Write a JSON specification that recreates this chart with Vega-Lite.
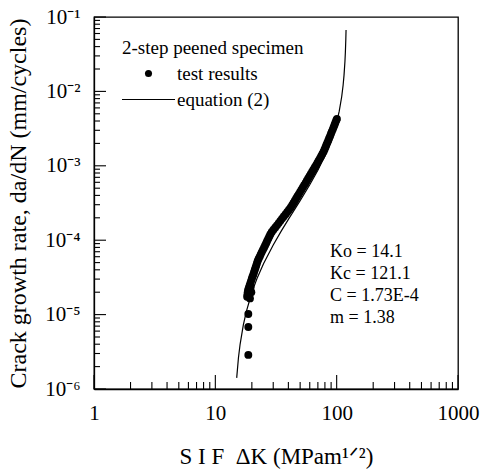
{
  "$schema": "https://vega.github.io/schema/vega-lite/v6.json",
  "width": 364,
  "height": 372,
  "autosize": {"type": "none"},
  "padding": {"left": 94, "top": 17, "right": 33, "bottom": 82},
  "background": "white",
  "config": {
    "view": {"stroke": "black", "strokeWidth": 1.3},
    "font": "Liberation Serif",
    "axis": {
      "grid": false,
      "ticks": false,
      "tickSize": 0,
      "domainColor": "black",
      "domainWidth": 1.3,
      "labelColor": "black",
      "titleColor": "black",
      "labelFont": "Liberation Serif",
      "titleFont": "Liberation Serif",
      "titleFontWeight": "normal"
    }
  },
  "datasets": {
    "xticks": [
      {"v": 1, "major": true}, {"v": 2, "major": false}, {"v": 3, "major": false}, {"v": 4, "major": false}, {"v": 5, "major": false}, {"v": 6, "major": false}, {"v": 7, "major": false}, {"v": 8, "major": false}, {"v": 9, "major": false},
      {"v": 10, "major": true}, {"v": 20, "major": false}, {"v": 30, "major": false}, {"v": 40, "major": false}, {"v": 50, "major": false}, {"v": 60, "major": false}, {"v": 70, "major": false}, {"v": 80, "major": false}, {"v": 90, "major": false},
      {"v": 100, "major": true}, {"v": 200, "major": false}, {"v": 300, "major": false}, {"v": 400, "major": false}, {"v": 500, "major": false}, {"v": 600, "major": false}, {"v": 700, "major": false}, {"v": 800, "major": false}, {"v": 900, "major": false},
      {"v": 1000, "major": true}
    ],
    "yticks": [
      {"v": 0.000001, "major": true}, {"v": 0.000002, "major": false}, {"v": 0.000003, "major": false}, {"v": 0.000004, "major": false}, {"v": 0.000005, "major": false}, {"v": 0.000006, "major": false}, {"v": 0.000007, "major": false}, {"v": 0.000008, "major": false}, {"v": 0.000009, "major": false},
      {"v": 0.00001, "major": true}, {"v": 0.00002, "major": false}, {"v": 0.00003, "major": false}, {"v": 0.00004, "major": false}, {"v": 0.00005, "major": false}, {"v": 0.00006, "major": false}, {"v": 0.00007, "major": false}, {"v": 0.00008, "major": false}, {"v": 0.00009, "major": false},
      {"v": 0.0001, "major": true}, {"v": 0.0002, "major": false}, {"v": 0.0003, "major": false}, {"v": 0.0004, "major": false}, {"v": 0.0005, "major": false}, {"v": 0.0006, "major": false}, {"v": 0.0007, "major": false}, {"v": 0.0008, "major": false}, {"v": 0.0009, "major": false},
      {"v": 0.001, "major": true}, {"v": 0.002, "major": false}, {"v": 0.003, "major": false}, {"v": 0.004, "major": false}, {"v": 0.005, "major": false}, {"v": 0.006, "major": false}, {"v": 0.007, "major": false}, {"v": 0.008, "major": false}, {"v": 0.009, "major": false},
      {"v": 0.01, "major": true}, {"v": 0.02, "major": false}, {"v": 0.03, "major": false}, {"v": 0.04, "major": false}, {"v": 0.05, "major": false}, {"v": 0.06, "major": false}, {"v": 0.07, "major": false}, {"v": 0.08, "major": false}, {"v": 0.09, "major": false},
      {"v": 0.1, "major": true}
    ],
    "curve": [
      {"K": 15, "rate": 1.41e-6},
      {"K": 15.5, "rate": 2.61e-6},
      {"K": 16, "rate": 3.99e-6},
      {"K": 17, "rate": 7.22e-6},
      {"K": 18, "rate": 1.098e-5},
      {"K": 20, "rate": 1.982e-5},
      {"K": 22, "rate": 3.025e-5},
      {"K": 25, "rate": 4.864e-5},
      {"K": 30, "rate": 8.64e-5},
      {"K": 35, "rate": 1.333e-4},
      {"K": 40, "rate": 1.903e-4},
      {"K": 50, "rate": 3.404e-4},
      {"K": 60, "rate": 5.564e-4},
      {"K": 70, "rate": 8.735e-4},
      {"K": 80, "rate": 1.3625e-3},
      {"K": 90, "rate": 2.188e-3},
      {"K": 100, "rate": 3.826e-3},
      {"K": 105, "rate": 5.423e-3},
      {"K": 110, "rate": 8.468e-3},
      {"K": 113, "rate": 1.211e-2},
      {"K": 115, "rate": 1.653e-2},
      {"K": 117, "rate": 2.527e-2},
      {"K": 118, "rate": 3.387e-2},
      {"K": 119, "rate": 5.066e-2},
      {"K": 119.5, "rate": 6.693e-2}
    ],
    "tests": [
      {"K": 18.7, "rate": 2.87e-6},
      {"K": 18.7, "rate": 6.8e-6},
      {"K": 18.7, "rate": 1.02e-5},
      {"K": 19.3, "rate": 1.65e-5},
      {"K": 19.8, "rate": 2.0e-5},
      {"K": 19.5, "rate": 2.3e-5},
      {"K": 18.28, "rate": 1.738e-5},
      {"K": 18.41, "rate": 1.862e-5},
      {"K": 18.49, "rate": 1.995e-5},
      {"K": 18.62, "rate": 2.138e-5},
      {"K": 18.88, "rate": 2.291e-5},
      {"K": 19.14, "rate": 2.455e-5},
      {"K": 19.41, "rate": 2.63e-5},
      {"K": 19.68, "rate": 2.818e-5},
      {"K": 19.95, "rate": 3.02e-5},
      {"K": 20.23, "rate": 3.236e-5},
      {"K": 20.56, "rate": 3.467e-5},
      {"K": 20.84, "rate": 3.715e-5},
      {"K": 21.13, "rate": 3.981e-5},
      {"K": 21.43, "rate": 4.266e-5},
      {"K": 21.73, "rate": 4.571e-5},
      {"K": 22.03, "rate": 4.898e-5},
      {"K": 22.34, "rate": 5.248e-5},
      {"K": 22.75, "rate": 5.623e-5},
      {"K": 23.23, "rate": 6.026e-5},
      {"K": 23.66, "rate": 6.457e-5},
      {"K": 24.15, "rate": 6.918e-5},
      {"K": 24.66, "rate": 7.413e-5},
      {"K": 25.18, "rate": 7.943e-5},
      {"K": 25.7, "rate": 8.511e-5},
      {"K": 26.24, "rate": 9.12e-5},
      {"K": 26.73, "rate": 9.772e-5},
      {"K": 27.29, "rate": 1.047e-4},
      {"K": 27.86, "rate": 1.122e-4},
      {"K": 28.44, "rate": 1.202e-4},
      {"K": 29.17, "rate": 1.288e-4},
      {"K": 30.13, "rate": 1.38e-4},
      {"K": 31.19, "rate": 1.479e-4},
      {"K": 32.21, "rate": 1.585e-4},
      {"K": 33.27, "rate": 1.698e-4},
      {"K": 34.36, "rate": 1.82e-4},
      {"K": 35.48, "rate": 1.95e-4},
      {"K": 36.64, "rate": 2.089e-4},
      {"K": 37.93, "rate": 2.239e-4},
      {"K": 39.17, "rate": 2.399e-4},
      {"K": 40.46, "rate": 2.57e-4},
      {"K": 41.78, "rate": 2.754e-4},
      {"K": 42.95, "rate": 2.951e-4},
      {"K": 44.06, "rate": 3.162e-4},
      {"K": 45.19, "rate": 3.388e-4},
      {"K": 46.35, "rate": 3.631e-4},
      {"K": 47.53, "rate": 3.89e-4},
      {"K": 48.75, "rate": 4.169e-4},
      {"K": 50.0, "rate": 4.467e-4},
      {"K": 51.29, "rate": 4.786e-4},
      {"K": 52.6, "rate": 5.129e-4},
      {"K": 53.95, "rate": 5.495e-4},
      {"K": 55.46, "rate": 5.888e-4},
      {"K": 56.75, "rate": 6.31e-4},
      {"K": 58.21, "rate": 6.761e-4},
      {"K": 59.7, "rate": 7.244e-4},
      {"K": 61.24, "rate": 7.762e-4},
      {"K": 62.81, "rate": 8.318e-4},
      {"K": 64.42, "rate": 8.913e-4},
      {"K": 66.07, "rate": 9.55e-4},
      {"K": 67.76, "rate": 1.023e-3},
      {"K": 69.34, "rate": 1.096e-3},
      {"K": 70.96, "rate": 1.175e-3},
      {"K": 72.78, "rate": 1.259e-3},
      {"K": 74.47, "rate": 1.349e-3},
      {"K": 76.21, "rate": 1.445e-3},
      {"K": 77.98, "rate": 1.549e-3},
      {"K": 79.43, "rate": 1.66e-3},
      {"K": 80.91, "rate": 1.778e-3},
      {"K": 82.22, "rate": 1.905e-3},
      {"K": 83.75, "rate": 2.042e-3},
      {"K": 85.31, "rate": 2.188e-3},
      {"K": 86.7, "rate": 2.344e-3},
      {"K": 88.31, "rate": 2.512e-3},
      {"K": 89.74, "rate": 2.692e-3},
      {"K": 91.2, "rate": 2.884e-3},
      {"K": 92.9, "rate": 3.09e-3},
      {"K": 94.41, "rate": 3.311e-3},
      {"K": 95.94, "rate": 3.548e-3},
      {"K": 97.5, "rate": 3.802e-3},
      {"K": 99.08, "rate": 4.074e-3},
      {"K": 100.5, "rate": 4.266e-3}
    ],
    "notes": [
      {"note": "Ko = 14.1\nKc = 121.1\nC = 1.73E-4\nm = 1.38"}
    ]
  },
  "layer": [
    {
      "data": {"name": "curve"},
      "mark": {"type": "line", "strokeWidth": 1.2, "clip": true},
      "encoding": {
        "x": {
          "field": "K",
          "type": "quantitative",
          "scale": {"type": "log", "domain": [1, 1000], "nice": false},
          "axis": {
            "title": "S I F\u00a0\u00a0ΔK (MPam¹ᐟ²)",
            "titleFontSize": 23,
            "titlePadding": 22,
            "labelFontSize": 21,
            "labelPadding": 13,
            "labelFlush": false,
            "values": [1, 10, 100, 1000],
            "labelExpr": "format(datum.value, 'd')"
          }
        },
        "y": {
          "field": "rate",
          "type": "quantitative",
          "scale": {"type": "log", "domain": [0.000001, 0.1], "nice": false},
          "axis": {
            "title": "Crack growth rate, da/dN (mm/cycles)",
            "titleFontSize": 24,
            "titlePadding": 14,
            "labelFontSize": 21,
            "labelPadding": 14,
            "labelFlush": false,
            "values": [0.000001, 0.00001, 0.0001, 0.001, 0.01, 0.1],
            "labelExpr": "['10⁻⁶','10⁻⁵','10⁻⁴','10⁻³','10⁻²','10⁻¹'][round(log(datum.value)/LN10) + 6]"
          }
        },
        "color": {
          "datum": "equation (2)",
          "type": "nominal",
          "scale": {"domain": ["test results", "equation (2)"], "range": ["black", "black"]},
          "legend": {
            "title": "2-step peened specimen",
            "titleLimit": 400,
            "labelLimit": 400,
            "orient": "none",
            "legendX": 28,
            "legendY": 22,
            "padding": 0,
            "titleFont": "Liberation Serif",
            "titleFontSize": 19,
            "titleFontWeight": "normal",
            "titleColor": "black",
            "titlePadding": 6,
            "labelFont": "Liberation Serif",
            "labelFontSize": 19,
            "labelColor": "black",
            "symbolType": "circle",
            "symbolSize": 50,
            "symbolOffset": 17,
            "labelOffset": 19,
            "rowPadding": 6,
            "encode": {
              "symbols": {
                "update": {
                  "shape": {"signal": "datum.value === 'equation (2)' ? 'stroke' : 'circle'"},
                  "size": {"signal": "datum.value === 'equation (2)' ? 2809 : 50"},
                  "fill": {"signal": "datum.value === 'equation (2)' ? 'transparent' : 'black'"},
                  "stroke": {"value": "black"},
                  "strokeWidth": {"signal": "datum.value === 'equation (2)' ? 1.2 : 0"},
                  "opacity": {"value": 1}
                }
              }
            }
          }
        }
      }
    },
    {
      "data": {"name": "xticks"},
      "transform": [{"filter": "datum.major"}],
      "mark": {"type": "tick", "orient": "vertical", "size": 14, "thickness": 1.1, "yOffset": -7, "color": "black", "opacity": 1},
      "encoding": {
        "x": {"field": "v", "type": "quantitative"},
        "y": {"datum": 0.000001, "type": "quantitative"}
      }
    },
    {
      "data": {"name": "xticks"},
      "transform": [{"filter": "!datum.major"}],
      "mark": {"type": "tick", "orient": "vertical", "size": 7, "thickness": 1.1, "yOffset": -3.5, "color": "black", "opacity": 1},
      "encoding": {
        "x": {"field": "v", "type": "quantitative"},
        "y": {"datum": 0.000001, "type": "quantitative"}
      }
    },
    {
      "data": {"name": "yticks"},
      "transform": [{"filter": "datum.major"}],
      "mark": {"type": "tick", "orient": "horizontal", "size": 12, "thickness": 1.1, "xOffset": 6, "color": "black", "opacity": 1},
      "encoding": {
        "y": {"field": "v", "type": "quantitative"},
        "x": {"datum": 1, "type": "quantitative"}
      }
    },
    {
      "data": {"name": "yticks"},
      "transform": [{"filter": "!datum.major"}],
      "mark": {"type": "tick", "orient": "horizontal", "size": 6, "thickness": 1.1, "xOffset": 3, "color": "black", "opacity": 1},
      "encoding": {
        "y": {"field": "v", "type": "quantitative"},
        "x": {"datum": 1, "type": "quantitative"}
      }
    },
    {
      "data": {"name": "tests"},
      "mark": {"type": "point", "filled": true, "opacity": 1, "size": 62},
      "encoding": {
        "x": {"field": "K", "type": "quantitative"},
        "y": {"field": "rate", "type": "quantitative"},
        "color": {"datum": "test results", "type": "nominal"}
      }
    },
    {
      "data": {"name": "notes"},
      "mark": {"type": "text", "align": "left", "baseline": "top", "lineBreak": "\n", "lineHeight": 22, "font": "Liberation Serif", "fontSize": 18, "fill": "black"},
      "encoding": {
        "x": {"datum": 88.2, "type": "quantitative"},
        "y": {"datum": 0.0000917, "type": "quantitative"},
        "text": {"field": "note", "type": "nominal"}
      }
    }
  ]
}
